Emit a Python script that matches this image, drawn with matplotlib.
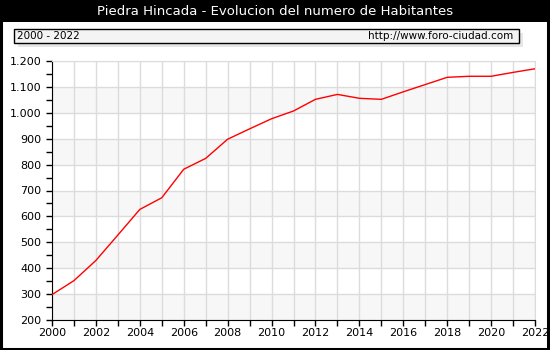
import numpy as np
import matplotlib.pyplot as plt
from matplotlib.patches import Rectangle
from matplotlib.ticker import FuncFormatter, MultipleLocator

# Habitantes por año
anios = list(range(2000, 2023))
habitantes = [298, 352, 430, 528, 627, 672, 782, 824, 898, 938, 977, 1007,
              1052, 1071, 1056, 1052, 1081, 1109, 1137, 1141, 1141, 1156, 1170]

titulo = 'Piedra Hincada - Evolucion del numero de Habitantes'
periodo = '2000 - 2022'
web = 'http://www.foro-ciudad.com'

plt.rcParams['font.family'] = 'DejaVu Sans'

fig = plt.figure(figsize=(5.5, 3.5), dpi=100)
fig.patch.set_facecolor('white')

# Barra negra del titulo y marco exterior
fig.patches.append(Rectangle((0, 1 - 22 / 350), 1, 22 / 350, transform=fig.transFigure,
                             facecolor='black', edgecolor='none', zorder=0))
fig.patches.append(Rectangle((0.002, 0.003), 0.995, 0.994, transform=fig.transFigure,
                             facecolor='none', edgecolor='black', linewidth=2.2, zorder=5))
fig.text(0.5, 1 - 11.5 / 350, titulo, color='white', fontsize=9.5,
         ha='center', va='center')

# Recuadro con el periodo y la web (con sombra)
bx, by, bw, bh = 14 / 550, 1 - 43 / 350, 505 / 550, 14 / 350
fig.patches.append(Rectangle((bx + 4 / 550, by - 4 / 350), bw, bh, transform=fig.transFigure,
                             facecolor='#e6e6e6', edgecolor='none', zorder=1))
fig.patches.append(Rectangle((bx, by), bw, bh, transform=fig.transFigure,
                             facecolor='#f4f4f4', edgecolor='black', linewidth=1, zorder=2))
fig.text(bx + 3 / 550, by + bh / 2, periodo, fontsize=7.5, ha='left', va='center', zorder=3)
fig.text(bx + bw - 6 / 550, by + bh / 2, web, fontsize=7.5, ha='right', va='center', zorder=3)

ax = fig.add_axes([52 / 550, 30 / 350, 483 / 550, 259 / 350])
ax.set_xlim(2000, 2022)
ax.set_ylim(200, 1200)

# Bandas alternas grises
for y0 in range(200, 1200, 200):
    ax.axhspan(y0, y0 + 100, color='#f7f7f7', zorder=0, linewidth=0)

ax.xaxis.set_major_locator(MultipleLocator(1))
ax.yaxis.set_major_locator(MultipleLocator(100))
ax.yaxis.set_minor_locator(MultipleLocator(50))
ax.grid(True, which='major', color='#dcdcdc', linewidth=1)
ax.set_axisbelow(True)

ax.plot(anios, habitantes, color='red', linewidth=1, zorder=3)

ax.xaxis.set_major_formatter(FuncFormatter(lambda v, p: f'{int(v)}' if int(v) % 2 == 0 else ''))
ax.yaxis.set_major_formatter(FuncFormatter(lambda v, p: f'{int(v):,}'.replace(',', '.')))
ax.tick_params(axis='both', which='major', length=4, width=1, labelsize=8, direction='out')
ax.tick_params(axis='y', which='minor', length=4, width=1, direction='out')
ax.tick_params(axis='x', pad=2)

for lado in ('top', 'right'):
    ax.spines[lado].set_color('#dcdcdc')
for lado in ('left', 'bottom'):
    ax.spines[lado].set_color('black')

fig.savefig('out.png', dpi=100)
